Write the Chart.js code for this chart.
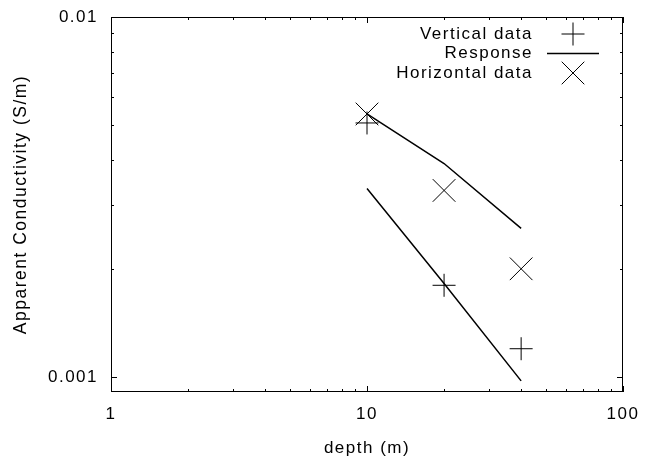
<!DOCTYPE html>
<html>
<head>
<meta charset="utf-8">
<script src="https://cdn.jsdelivr.net/npm/chart.js@4.4.0/dist/chart.umd.min.js"></script>
<style>
body{margin:0;background:#fff}
#wrap{width:652px;height:460px}
</style>
</head>
<body>
<div id="wrap"><canvas id="chart" width="652" height="460"></canvas></div>
<script>
// values
const depth = [10, 20, 40]
const verticalData = [0.00508, 0.00180, 0.00120]
const horizontalData = [0.00538, 0.00330, 0.00200]
const responseHorizontal = [0.00538, 0.00392, 0.00259]
const responseVertical = [0.00334, 0.00182, 0.000977]
const xTicks = [1, 10, 100]
const yTicks = [0.001, 0.01]
const legendLabels = ['Vertical data', 'Response', 'Horizontal data']

const font = {family: '"Liberation Sans", Arial, sans-serif', size: 17}

function pts(xs, ys){
    return xs.map((x, i) => ({x: x, y: ys[i]}))
}

// both response curves in one dataset, split by a gap
const responsePts = pts(depth, responseHorizontal)
    .concat([{x: depth[depth.length - 1], y: null}])
    .concat(pts(depth, responseVertical))

// gnuplot-like frame with inward ticks on all four sides
const frame = {
    id: 'frame',
    beforeDraw(chart){
        chart.ctx.letterSpacing = '1.5px'
    },
    afterDraw(chart){
        const ctx = chart.ctx
        const a = chart.chartArea
        const sx = chart.scales.x, sy = chart.scales.y
        ctx.save()
        ctx.strokeStyle = '#000'
        ctx.lineWidth = 1
        ctx.beginPath()
        for (let e = Math.floor(Math.log10(sx.min)); e <= Math.ceil(Math.log10(sx.max)); e++){
            for (let k = 1; k <= 9; k++){
                const v = k * Math.pow(10, e)
                if (v < sx.min * 0.999 || v > sx.max * 1.001) continue
                const len = k == 1 ? 6 : 3
                const px = Math.round(sx.getPixelForValue(v)) + 0.5
                ctx.moveTo(px, a.bottom); ctx.lineTo(px, a.bottom - len)
                ctx.moveTo(px, a.top); ctx.lineTo(px, a.top + len)
            }
        }
        for (let e = Math.floor(Math.log10(sy.min)); e <= Math.ceil(Math.log10(sy.max)); e++){
            for (let k = 1; k <= 9; k++){
                const v = k * Math.pow(10, e)
                if (v < sy.min * 0.999 || v > sy.max * 1.001) continue
                const len = k == 1 ? 6 : 3
                const py = Math.round(sy.getPixelForValue(v)) + 0.5
                ctx.moveTo(a.left, py); ctx.lineTo(a.left + len, py)
                ctx.moveTo(a.right, py); ctx.lineTo(a.right - len, py)
            }
        }
        ctx.stroke()
        ctx.strokeRect(Math.round(a.left) + 0.5, Math.round(a.top) + 0.5, Math.round(a.right - a.left) - 1, Math.round(a.bottom - a.top) - 1)

        // key, top right inside the frame
        ctx.font = font.size + 'px ' + font.family
        ctx.fillStyle = '#000'
        ctx.textAlign = 'right'
        ctx.textBaseline = 'middle'
        const tx = a.right - 90, sxc = a.right - 50
        const rows = [a.top + 17, a.top + 36.5, a.top + 56]
        legendLabels.forEach((l, i) => ctx.fillText(l, tx, rows[i]))
        ctx.beginPath()
        ctx.lineWidth = 1
        ctx.moveTo(sxc - 11.5, rows[0]); ctx.lineTo(sxc + 11.5, rows[0])
        ctx.moveTo(sxc, rows[0] - 11.5); ctx.lineTo(sxc, rows[0] + 11.5)
        ctx.moveTo(sxc - 11.3, rows[2] - 11.3); ctx.lineTo(sxc + 11.3, rows[2] + 11.3)
        ctx.moveTo(sxc + 11.3, rows[2] - 11.3); ctx.lineTo(sxc - 11.3, rows[2] + 11.3)
        ctx.stroke()
        ctx.beginPath()
        ctx.lineWidth = 1.5
        ctx.moveTo(sxc - 26, rows[1]); ctx.lineTo(sxc + 26, rows[1])
        ctx.stroke()
        ctx.restore()
    }
}

new Chart(document.getElementById('chart').getContext('2d'), {
    type: 'scatter',
    data: {
        datasets: [
            {
                label: legendLabels[0],
                data: pts(depth, verticalData),
                pointStyle: 'cross',
                pointRadius: 11.5,
                pointBorderWidth: 1,
                borderColor: '#000',
                backgroundColor: '#000'
            },
            {
                label: legendLabels[1],
                data: responsePts,
                showLine: true,
                spanGaps: false,
                pointRadius: 0,
                borderWidth: 1.5,
                borderColor: '#000'
            },
            {
                label: legendLabels[2],
                data: pts(depth, horizontalData),
                pointStyle: 'crossRot',
                pointRadius: 16,
                pointBorderWidth: 1,
                borderColor: '#000',
                backgroundColor: '#000'
            }
        ]
    },
    options: {
        responsive: false,
        animation: false,
        layout: {padding: {top: 14, right: 29, left: 0, bottom: 0}},
        plugins: {
            legend: {display: false},
            tooltip: {enabled: false}
        },
        scales: {
            x: {
                type: 'logarithmic',
                position: 'bottom',
                min: 1,
                max: 100,
                grid: {display: false, drawTicks: false},
                border: {display: false},
                afterBuildTicks: s => { s.ticks = xTicks.map(v => ({value: v})) },
                afterFit: s => { s.height = 68; s.paddingLeft = 0; s.paddingRight = 0 },
                ticks: {
                    autoSkip: false,
                    maxRotation: 0,
                    padding: 12,
                    color: '#000',
                    font: font,
                    callback: v => String(v)
                },
                title: {
                    display: true,
                    text: 'depth (m)',
                    color: '#000',
                    font: font,
                    padding: {top: 0, bottom: 1}
                }
            },
            y: {
                type: 'logarithmic',
                min: 0.00091,
                max: 0.01,
                grid: {display: false, drawTicks: false},
                border: {display: false},
                afterBuildTicks: s => { s.ticks = yTicks.map(v => ({value: v})) },
                afterFit: s => { s.width = 111; s.paddingTop = 0; s.paddingBottom = 0 },
                ticks: {
                    autoSkip: false,
                    padding: 13,
                    color: '#000',
                    font: font,
                    callback: v => String(v)
                },
                title: {
                    display: true,
                    text: 'Apparent Conductivity (S/m)',
                    color: '#000',
                    font: {family: font.family, size: 17.5},
                    padding: {top: 11, bottom: 0}
                }
            }
        }
    },
    plugins: [frame]
})
</script>
</body>
</html>
